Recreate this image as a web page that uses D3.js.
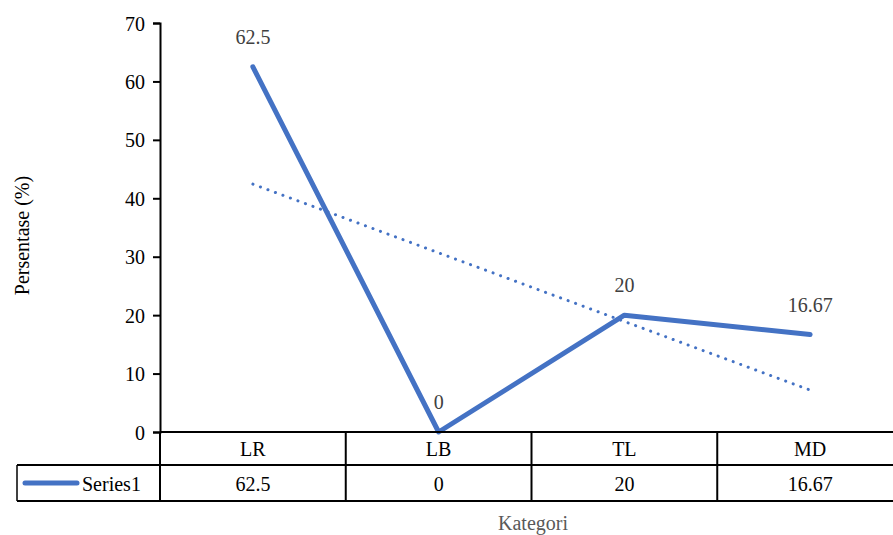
<!DOCTYPE html>
<html>
<head>
<meta charset="utf-8">
<script src="https://cdn.jsdelivr.net/npm/d3@7"></script>
<style>
  html, body { margin: 0; padding: 0; background: #fff; }
  svg { display: block; }
  svg text { font-family: "Times New Roman", "Liberation Serif", Tinos, "DejaVu Serif", serif; }
</style>
</head>
<body>
<svg id="chart" width="893" height="535"></svg>
<script>
const categories = ["LR", "LB", "TL", "MD"];
const seriesName = "Series1";
const values = [62.5, 0, 20, 16.67];
const valueLabels = ["62.5", "0", "20", "16.67"];
const yTicks = [0, 10, 20, 30, 40, 50, 60, 70];

const lineColor = "#4472C4";
const serif = '"Times New Roman", "Liberation Serif", Tinos, "DejaVu Serif", serif';
const svg = d3.select("#chart");

const plot = { left: 160, right: 903, top: 23, bottom: 432 };

const x = d3.scaleBand().domain(categories).range([plot.left, plot.right]).padding(0);
const y = d3.scaleLinear().domain([0, 70]).range([plot.bottom, plot.top]);
const cx = c => x(c) + x.bandwidth() / 2;

// y axis
const yAxis = d3.axisLeft(y).tickValues(yTicks).tickSize(7).tickPadding(8).tickFormat(d3.format("d"));
const gy = svg.append("g").attr("transform", `translate(${plot.left},0)`).call(yAxis)
  .attr("font-family", serif);
gy.select(".domain").attr("stroke", "#000").attr("stroke-width", 2);
gy.selectAll(".tick line").attr("stroke", "#000").attr("stroke-width", 2);
gy.selectAll(".tick text").attr("font-size", 20).attr("fill", "#000").attr("dy", "0.35em");

svg.append("text")
  .attr("transform", `translate(29,${(plot.top + plot.bottom) / 2 + 8}) rotate(-90)`)
  .attr("text-anchor", "middle").attr("font-size", 20).attr("fill", "#000")
  .text("Persentase (%)");

// linear trendline (least squares over category index)
const xs = values.map((_, i) => i + 1);
const mx = d3.mean(xs), my = d3.mean(values);
const slope = d3.sum(xs, (xi, i) => (xi - mx) * (values[i] - my)) / d3.sum(xs, xi => (xi - mx) ** 2);
const intercept = my - slope * mx;
const trend = categories.map((c, i) => ({ c, v: intercept + slope * (i + 1) }));
const trendEnds = [trend[0], trend[trend.length - 1]];

svg.append("path")
  .datum(trendEnds)
  .attr("d", d3.line().x(d => cx(d.c)).y(d => y(d.v)))
  .attr("fill", "none").attr("stroke", lineColor).attr("stroke-width", 3)
  .attr("stroke-linecap", "round").attr("stroke-dasharray", "0.1 7.9");

// series line
const pts = categories.map((c, i) => ({ c, v: values[i], label: valueLabels[i] }));
svg.append("path")
  .datum(pts)
  .attr("d", d3.line().x(d => cx(d.c)).y(d => y(d.v)))
  .attr("fill", "none").attr("stroke", lineColor).attr("stroke-width", 5)
  .attr("stroke-linecap", "round").attr("stroke-linejoin", "round");

// data labels
svg.append("g").selectAll("text").data(pts).join("text")
  .attr("x", d => cx(d.c)).attr("y", d => y(d.v) - 23)
  .attr("text-anchor", "middle").attr("font-size", 20).attr("fill", "#404040")
  .text(d => d.label);

// data table
const row1Top = plot.bottom, row1Bot = 465, row2Bot = 501;
const legendLeft = 17;
const tbl = svg.append("g");

tbl.append("line").attr("x1", plot.left).attr("x2", plot.right).attr("y1", row1Top).attr("y2", row1Top)
  .attr("stroke", "#000").attr("stroke-width", 2);
tbl.append("line").attr("x1", legendLeft).attr("x2", plot.right).attr("y1", row1Bot).attr("y2", row1Bot)
  .attr("stroke", "#000").attr("stroke-width", 2);
tbl.append("line").attr("x1", legendLeft).attr("x2", plot.right).attr("y1", row2Bot).attr("y2", row2Bot)
  .attr("stroke", "#000").attr("stroke-width", 2);
tbl.append("line").attr("x1", legendLeft).attr("x2", legendLeft).attr("y1", row1Bot).attr("y2", row2Bot)
  .attr("stroke", "#000").attr("stroke-width", 1.5);

const dividers = categories.map(c => x(c)).concat([plot.right]);
tbl.selectAll("line.v").data(dividers).join("line").attr("class", "v")
  .attr("x1", d => d).attr("x2", d => d).attr("y1", row1Top).attr("y2", row2Bot)
  .attr("stroke", "#000").attr("stroke-width", 2);

tbl.selectAll("text.cat").data(categories).join("text").attr("class", "cat")
  .attr("x", d => cx(d)).attr("y", row1Bot - 9)
  .attr("text-anchor", "middle").attr("font-size", 20).attr("fill", "#000")
  .text(d => d);

tbl.selectAll("text.val").data(pts).join("text").attr("class", "val")
  .attr("x", d => cx(d.c)).attr("y", row2Bot - 10)
  .attr("text-anchor", "middle").attr("font-size", 20).attr("fill", "#000")
  .text(d => d.label);

// legend key
tbl.append("line").attr("x1", 25).attr("x2", 77).attr("y1", 483).attr("y2", 483)
  .attr("stroke", lineColor).attr("stroke-width", 5).attr("stroke-linecap", "round");
tbl.append("text").attr("x", 82).attr("y", row2Bot - 10)
  .attr("font-size", 20).attr("fill", "#000").text(seriesName);

// x axis title
svg.append("text").attr("x", 533).attr("y", 530)
  .attr("text-anchor", "middle").attr("font-size", 20).attr("fill", "#595959")
  .text("Kategori");
</script>
</body>
</html>
